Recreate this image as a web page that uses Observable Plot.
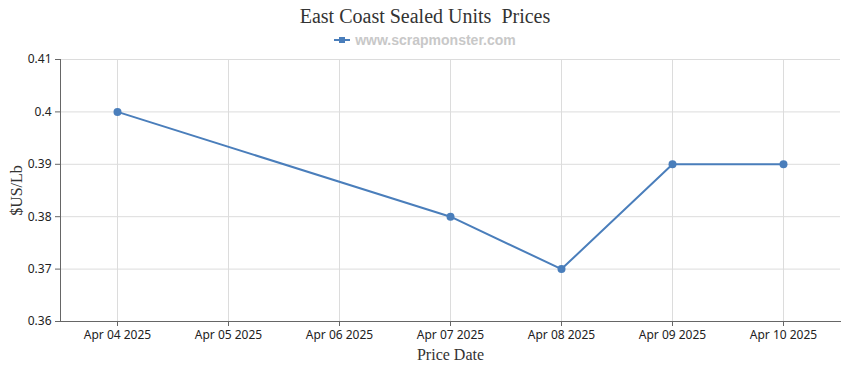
<!DOCTYPE html>
<html>
<head>
<meta charset="utf-8">
<script src="https://cdn.jsdelivr.net/npm/d3@7"></script>
<script src="https://cdn.jsdelivr.net/npm/@observablehq/plot@0.6"></script>
<style>
  html, body { margin: 0; padding: 0; background: #fff; }
  #wrap { width: 850px; }
  #title { height: 30px; line-height: 32px; text-align: center; font-family: "Liberation Serif", serif; font-size: 20px; color: #333; white-space: pre; }
  #legend { height: 20px; line-height: 20px; text-align: center; font-family: "Liberation Sans", Arial, sans-serif; font-size: 14px; font-weight: bold; color: #c8c8c8; }
  #legend svg { vertical-align: middle; margin-right: 5px; position: relative; top: -1px; }
  #chart svg { display: block; }
  g[aria-label="y-axis label"] text, g[aria-label="x-axis label"] text { font-family: "Liberation Serif", serif; font-size: 16px; fill: #333; }
</style>
</head>
<body>
<div id="wrap">
  <div id="title">East Coast Sealed Units  Prices</div>
  <div id="legend"><svg width="16" height="8"><line x1="0" y1="4" x2="16" y2="4" stroke="#4a7ebb" stroke-width="2"/><rect x="5" y="1" width="6" height="6" fill="#4a7ebb"/></svg>www.scrapmonster.com</div>
  <div id="chart"></div>
</div>
<script>
const allDates = ["Apr 04 2025", "Apr 05 2025", "Apr 06 2025", "Apr 07 2025", "Apr 08 2025", "Apr 09 2025", "Apr 10 2025"];
const dataDates = ["Apr 04 2025", "Apr 07 2025", "Apr 08 2025", "Apr 09 2025", "Apr 10 2025"];
const prices = [0.40, 0.38, 0.37, 0.39, 0.39];
const yTicks = [0.36, 0.37, 0.38, 0.39, 0.40, 0.41];
const yTickLabels = ["0.36", "0.37", "0.38", "0.39", "0.4", "0.41"];

const data = dataDates.map((d, i) => ({date: d, price: prices[i]}));
const color = "#4a7ebb";

const chart = Plot.plot({
  width: 850,
  height: 320,
  marginTop: 9,
  marginBottom: 49,
  marginLeft: 60,
  marginRight: 10,
  style: {fontFamily: "'Noto Sans', sans-serif", fontSize: "12px", color: "#222", background: "#fff"},
  x: {type: "point", domain: allDates, padding: 0.5},
  y: {domain: [0.36, 0.41]},
  marks: [
    Plot.gridX(allDates, {stroke: "#dcdcdc", strokeOpacity: 1}),
    Plot.gridY(yTicks, {stroke: "#dcdcdc", strokeOpacity: 1}),
    Plot.frame({anchor: "left", stroke: "#666"}),
    Plot.frame({anchor: "bottom", stroke: "#666"}),
    Plot.axisX({ticks: allDates, tickSize: 5, tickPadding: 4, stroke: "#666", label: "Price Date", labelAnchor: "center", labelArrow: "none", labelOffset: 38}),
    Plot.axisY({ticks: yTicks, tickFormat: d => yTickLabels[yTicks.indexOf(d)], tickSize: 5, tickPadding: 4, stroke: "#666", label: "$US/Lb", labelAnchor: "center", labelArrow: "none", labelOffset: 50}),
    Plot.line(data, {x: "date", y: "price", stroke: color, strokeWidth: 2}),
    Plot.dot(data, {x: "date", y: "price", fill: color, r: 4})
  ]
});
document.getElementById("chart").appendChild(chart);
</script>
</body>
</html>
